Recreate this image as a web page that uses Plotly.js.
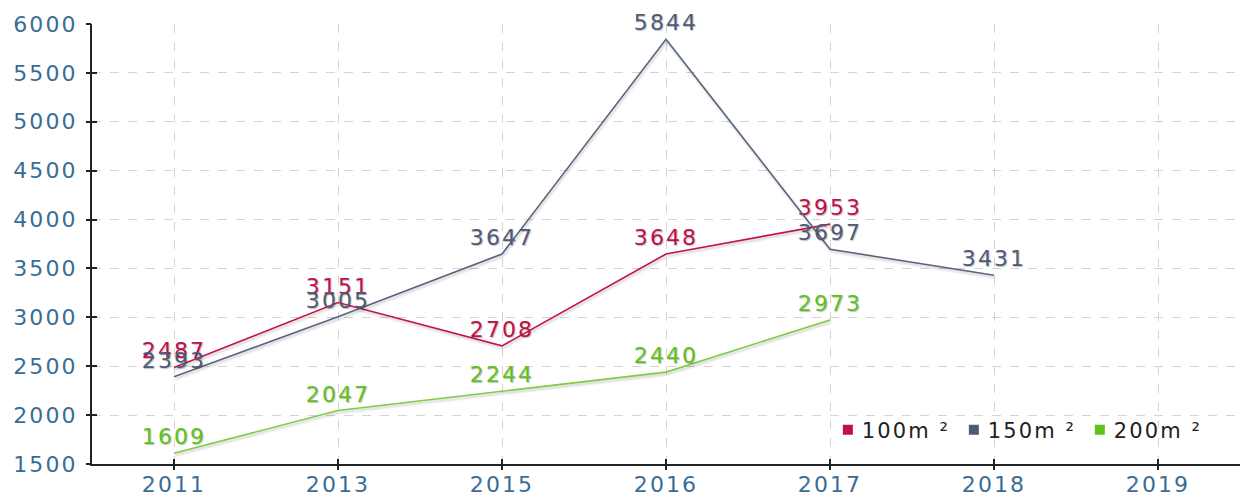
<!DOCTYPE html>
<html>
<head>
<meta charset="utf-8">
<script src="https://cdn.plot.ly/plotly-3.0.1.min.js"></script>
<style>
  html, body { margin: 0; padding: 0; background: #fff; }
  #chart { width: 1241px; height: 498px; }
  #chart text { letter-spacing: 2.1px; }
  #chart .legendtext { transform: translateX(-6px); }
  .scatterlayer .trace path.js-line { filter: drop-shadow(1px 2px 1px rgba(0,0,0,0.22)); }
</style>
</head>
<body>
<div id="chart"></div>
<script>
// ---- data ----
const categories = ['2011', '2013', '2015', '2016', '2017', '2018', '2019'];
const seriesNames = ['100m ²', '150m ²', '200m ²'];
const values100 = [2487, 3151, 2708, 3648, 3953, null, null];
const values150 = [2393, 3005, 3647, 5844, 3697, 3431, null];
const values200 = [1609, 2047, 2244, 2440, 2973, null, null];
const yTicks = [1500, 2000, 2500, 3000, 3500, 4000, 4500, 5000, 5500, 6000];

// ---- styles ----
const colors = ['#c4134c', '#56647f', '#7ccd42'];
const labelColors = ['#c0104a', '#4e5b78', '#5cc21d'];
const fontFamily = '"DejaVu Sans", Verdana, sans-serif';
const seriesValues = [values100, values150, values200];

const traces = seriesValues.map((vals, i) => ({
  type: 'scatter',
  mode: 'lines+markers+text',
  x: categories,
  y: vals,
  text: vals.map(v => v === null ? '' : String(v)),
  textposition: 'top center',
  textfont: { family: fontFamily, size: 22, color: labelColors[i], shadow: '1px 1px 1px rgba(0,0,0,0.25)' },
  line: { color: colors[i], width: 1.6 },
  marker: { size: 4, color: 'rgba(0,0,0,0)' },
  showlegend: false,
  hoverinfo: 'x+y',
  cliponaxis: false,
  connectgaps: false
}));

// legend-only entries (square markers)
seriesNames.forEach((name, i) => {
  traces.push({
    type: 'scatter',
    mode: 'markers',
    x: [null],
    y: [null],
    name: name,
    marker: { symbol: 'square', size: 10, color: labelColors[i] },
    showlegend: true
  });
});

const layout = {
  width: 1241,
  height: 498,
  margin: { l: 92, r: 1, t: 24, b: 34 },
  paper_bgcolor: '#ffffff',
  plot_bgcolor: '#ffffff',
  font: { family: fontFamily, size: 22, color: '#3a6d95' },
  showlegend: true,
  legend: {
    orientation: 'h',
    x: 0.641, xanchor: 'left',
    y: 0.077, yanchor: 'middle',
    bgcolor: 'rgba(0,0,0,0)',
    font: { family: fontFamily, size: 21, color: '#222222' },
    entrywidth: 81, entrywidthmode: 'pixels',
    itemclick: false
  },
  xaxis: {
    type: 'category',
    categoryorder: 'array',
    categoryarray: categories,
    range: [-0.5, 6.5],
    showline: true, linecolor: '#222', linewidth: 2,
    ticks: 'inside', ticklen: 5, tickcolor: '#222', tickwidth: 2,
    showgrid: true, gridcolor: '#d4d4d4', griddash: 'dash', gridwidth: 1.2,
    tickfont: { family: fontFamily, size: 22, color: '#3a6d95' },
    zeroline: false,
    fixedrange: true
  },
  yaxis: {
    range: [1500, 6000],
    tickvals: yTicks,
    ticktext: yTicks.map(String),
    showline: true, linecolor: '#222', linewidth: 2,
    ticks: 'inside', ticklen: 5, tickcolor: '#222', tickwidth: 2,
    ticklabelstandoff: 8,
    showgrid: true, gridcolor: '#d4d4d4', griddash: 'dash', gridwidth: 1.2,
    tickfont: { family: fontFamily, size: 22, color: '#3a6d95' },
    zeroline: false,
    fixedrange: true
  },
  xaxis2: {
    type: 'category',
    categoryorder: 'array',
    categoryarray: categories,
    range: [-0.5, 6.5],
    overlaying: 'x', anchor: 'y', side: 'bottom',
    showline: false, showgrid: false, zeroline: false,
    ticks: 'outside', ticklen: 5, tickcolor: '#222', tickwidth: 2,
    showticklabels: false,
    fixedrange: true
  },
  yaxis2: {
    range: [1500, 6000],
    tickvals: yTicks,
    overlaying: 'y', anchor: 'x', side: 'left',
    showline: false, showgrid: false, zeroline: false,
    ticks: 'outside', ticklen: 5, tickcolor: '#222', tickwidth: 2,
    showticklabels: false,
    fixedrange: true
  }
};

// invisible anchor trace so the overlay axes are drawn
traces.push({
  type: 'scatter', mode: 'markers', x: [null], y: [null],
  xaxis: 'x2', yaxis: 'y2', showlegend: false, hoverinfo: 'skip'
});

Plotly.newPlot('chart', traces, layout, { displayModeBar: false, staticPlot: false });
</script>
</body>
</html>
